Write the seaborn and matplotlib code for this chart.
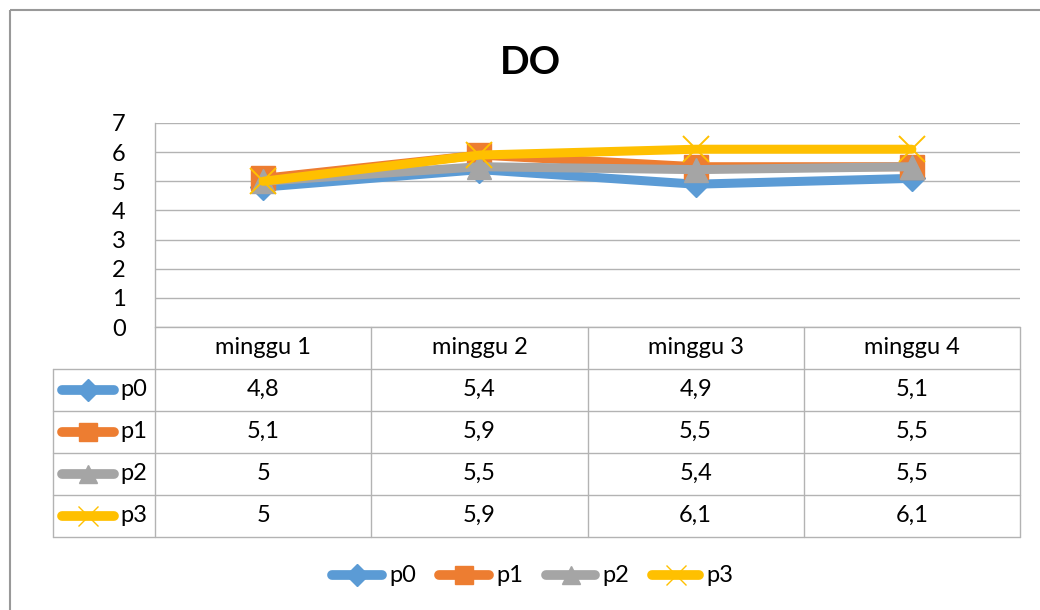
import numpy as np
import pandas as pd
import matplotlib
matplotlib.use('Agg')
import matplotlib.pyplot as plt
import seaborn as sns
from matplotlib.lines import Line2D

# ---- data ----
categories = ['minggu 1', 'minggu 2', 'minggu 3', 'minggu 4']
series_names = ['p0', 'p1', 'p2', 'p3']
p0 = [4.8, 5.4, 4.9, 5.1]
p1 = [5.1, 5.9, 5.5, 5.5]
p2 = [5.0, 5.5, 5.4, 5.5]
p3 = [5.0, 5.9, 6.1, 6.1]
y_ticks = [0, 1, 2, 3, 4, 5, 6, 7]
title = 'DO'

values = [p0, p1, p2, p3]
rows = []
for name, vals in zip(series_names, values):
    for i, (c, v) in enumerate(zip(categories, vals)):
        rows.append({'series': name, 'cat': c, 'x': i, 'value': v})
df = pd.DataFrame(rows)

# ---- style ----
colors = ['#5B9BD5', '#ED7D31', '#A5A5A5', '#FFC000']
markers = ['D', 's', '^', 'x']
msizes = [13, 17, 17, 19]
mews = [1, 1, 1, 1.4]
key_ms = [11, 13, 13, 14]
grid_col = '#B3B3B3'

sns.set_theme(style='white')
plt.rcParams['font.family'] = ['Lato', 'DejaVu Sans']
FS = 17

W, H = 1040, 610
fig = plt.figure(figsize=(W / 100, H / 100), dpi=100)

def px_rect(x0, y0, x1, y1):
    return [x0 / W, 1 - y1 / H, (x1 - x0) / W, (y1 - y0) / H]

# overlay in pixel coordinates
ov = fig.add_axes([0, 0, 1, 1])
ov.set_xlim(0, W)
ov.set_ylim(H, 0)
ov.axis('off')

# outer chart border
ov.plot([9.5, 9.5], [10, H], color='#999999', lw=1.5, solid_capstyle='butt')
ov.plot([9.5, W], [10, 10], color='#999999', lw=1.5, solid_capstyle='butt')

# title
ov.text(530, 62, title, ha='center', va='center', fontsize=28, fontweight='bold', color='black')

# ---- plot area ----
PL, PT, PR, PB = 155, 123, 1020, 327
ax = fig.add_axes(px_rect(PL, PT, PR, PB))
ax.set_facecolor('none')
for name, c, m, ms, mew in zip(series_names, colors, markers, msizes, mews):
    sub = df[df['series'] == name]
    sns.lineplot(data=sub, x='x', y='value', ax=ax, color=c, marker=m,
                 markersize=ms, markeredgecolor=c, markerfacecolor=c,
                 markeredgewidth=mew, linewidth=6.5, sort=False,
                 solid_capstyle='round', solid_joinstyle='round', legend=False)
ax.set_xlim(-0.5, len(categories) - 0.5)
ax.set_ylim(y_ticks[0], y_ticks[-1])
ax.set_yticks(y_ticks)
ax.set_yticklabels([str(t) for t in y_ticks], fontsize=FS, color='black')
ax.set_xticks([])
ax.set_xlabel('')
ax.set_ylabel('')
ax.tick_params(axis='y', length=0, pad=26)
for t in ax.get_yticklabels():
    t.set_horizontalalignment('center')
ax.grid(axis='y', color=grid_col, lw=1.0)
ax.set_axisbelow(True)
for s in ['top', 'right', 'bottom']:
    ax.spines[s].set_visible(False)
ax.spines['left'].set_color(grid_col)
ax.spines['left'].set_linewidth(1.0)

# ---- data table ----
TL = 53
col_w = (PR - PL) / len(categories)
xs = [PL + i * col_w for i in range(len(categories) + 1)]
ys = [327, 368.5, 410.5, 452.5, 494.5, 536.5]
lw_t = 1.0
ov.plot([PL, PR], [ys[0], ys[0]], color=grid_col, lw=lw_t)
for y in ys[1:]:
    ov.plot([TL, PR], [y, y], color=grid_col, lw=lw_t)
ov.plot([TL, TL], [ys[1], ys[-1]], color=grid_col, lw=lw_t)
for x in xs:
    ov.plot([x, x], [ys[0], ys[-1]], color=grid_col, lw=lw_t)

for i, c in enumerate(categories):
    ov.text((xs[i] + xs[i + 1]) / 2, (ys[0] + ys[1]) / 2, c, ha='center', va='center',
            fontsize=FS, color='black')

def fmt(v):
    return f'{v:g}'.replace('.', ',')

def key(x0, x1, y, c, m, ms, mew):
    ov.add_line(Line2D([x0, x1], [y, y], color=c, lw=7, solid_capstyle='round'))
    ov.add_line(Line2D([(x0 + x1) / 2], [y], color=c, marker=m, markersize=ms,
                       markeredgecolor=c, markerfacecolor=c, markeredgewidth=mew, lw=0))

for r, (name, vals, c, m) in enumerate(zip(series_names, values, colors, markers)):
    yc = (ys[r + 1] + ys[r + 2]) / 2
    key(62, 114, yc, c, m, key_ms[r], 1)
    ov.text(120, yc, name, ha='left', va='center', fontsize=FS, color='black')
    for i, v in enumerate(vals):
        ov.text((xs[i] + xs[i + 1]) / 2, yc, fmt(v), ha='center', va='center',
                fontsize=FS, color='black')

# ---- bottom legend ----
leg_x = [(328, 386, 389), (435, 493, 496), (542, 599, 602), (648, 703, 706)]
for (x0, x1, xt), name, c, m, r in zip(leg_x, series_names, colors, markers, range(4)):
    key(x0 + 4, x1 - 4, 575, c, m, key_ms[r], 1)
    ov.text(xt, 575, name, ha='left', va='center', fontsize=FS, color='black')

fig.savefig('out.png', dpi=100, facecolor='white')
